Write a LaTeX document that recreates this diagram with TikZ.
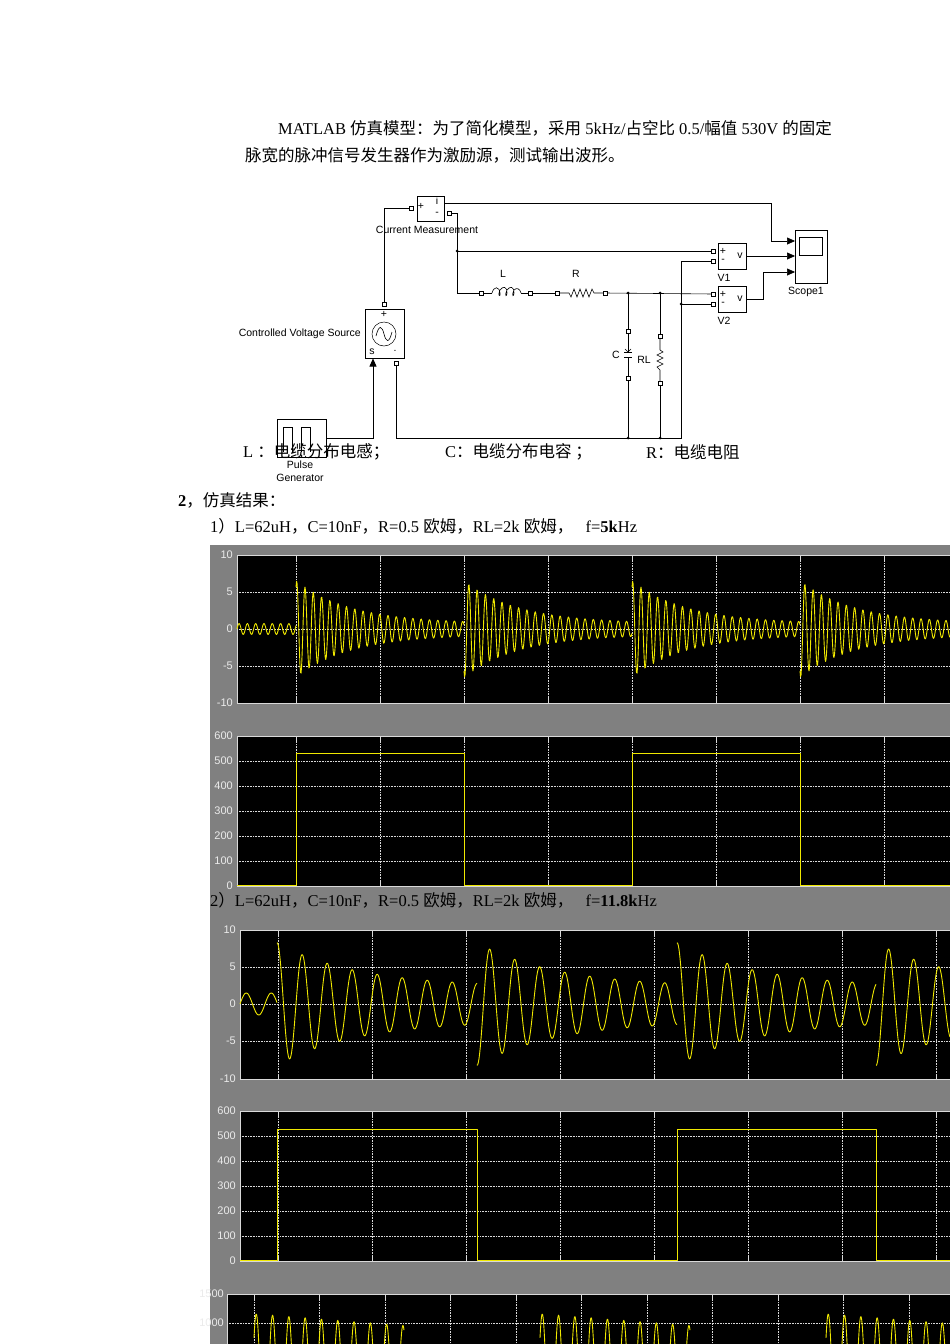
\documentclass[tikz,border=0pt]{standalone}
\usepackage{fontspec}
\setmainfont{Liberation Serif}
\newfontfamily\cjk{Noto Sans CJK SC}
\newfontfamily\sans{Liberation Sans}
\usetikzlibrary{arrows.meta}
\definecolor{scgray}{HTML}{808080}
\definecolor{wavey}{HTML}{F0E800}
\begin{document}
\begin{tikzpicture}[x=1pt,y=-1pt,
  txt/.style={inner sep=0pt,font=\fontsize{16.5}{18}\selectfont},
  lab/.style={inner sep=0pt,font=\sans\fontsize{10.5}{11}\selectfont},
  blk/.style={draw,line width=0.5pt},
  wire/.style={line width=0.6pt},
  port/.style={draw,fill=white,line width=0.4pt,minimum size=3.5pt,inner sep=0pt},
  jn/.style={circle,fill,inner sep=0pt,minimum size=3pt},
  arr/.style={wire,-{Triangle[length=8pt,width=7pt]}},
  ax/.style={inner sep=0pt,anchor=east,text=white!92!black,font=\sans\fontsize{11}{12}\selectfont},
  frame/.style={draw=white!85!black,line width=0.8pt,fill=black},
  grid/.style={white!85!black,densely dotted,line width=0.6pt},
  wave/.style={wavey,line width=0.9pt,line join=round}]
\useasboundingbox (0,0) rectangle (950,1344);
\fill[white] (0,0) rectangle (950,1344);

% ---------- text ----------
\node[txt,anchor=west] (t1) at (278,128) {MATLAB {\cjk 仿真模型：为了简化模型，采用} 5kHz/{\cjk 占空比} 0.5/{\cjk 幅值} 530V {\cjk 的固定}};
\node[txt,anchor=west] (t2) at (245,155) {\cjk 脉宽的脉冲信号发生器作为激励源，测试输出波形。};

% ---------- circuit ----------
\node[blk,minimum width=27pt,minimum height=25pt,inner sep=0pt] (cm) at (430.5,208.5) {};
\node[lab] at (421,206) {+};
\node[lab] at (437,201) {i};
\node[lab] at (437,214) {-};
\node[lab] (cml) at (427,230) {Current Measurement};
\node[port] (cmin) at (411,208) {};
\node[port] (cmm) at (449,213) {};

\node[blk,minimum width=32pt,minimum height=53pt,inner sep=0pt] (sc) at (811,256.5) {};
\draw[line width=0.5pt] (799,237) rectangle (822,255);
\node[lab] (scl) at (806,292) {Scope1};

\node[blk,minimum width=28pt,minimum height=26pt,inner sep=0pt] (v1) at (732,256) {};
\node[lab] at (723,251) {+};\node[lab] at (723,261) {-};\node[lab] at (740,256) {v};
\node[lab] at (724,278) {V1};
\node[port] (v1p) at (713,251) {};
\node[port] (v1m) at (713,261) {};
\node[blk,minimum width=28pt,minimum height=26pt,inner sep=0pt] (v2) at (732,299) {};
\node[lab] at (723,294) {+};\node[lab] at (723,304) {-};\node[lab] at (740,299) {v};
\node[lab] at (724,321) {V2};
\node[port] (v2p) at (713,294) {};
\node[port] (v2m) at (713,304) {};

\node[blk,minimum width=39pt,minimum height=49pt,inner sep=0pt] (cvs) at (384.5,333.5) {};
\node[lab] at (384,314) {+};
\node[lab] at (372,352) {s};
\node[lab] at (395,351) {.};
\draw[line width=0.5pt] (384,334) circle (12);
\draw[line width=0.6pt] (376,336) .. controls (379,324) and (382,326) .. (384,334) .. controls (386,342) and (389,344) .. (392,332);
\node[port] (cvst) at (384,304) {};
\node[port] (cvsb) at (396,363) {};
\node[lab,anchor=east] at (361,334) {Controlled Voltage Source};

\node[blk,minimum width=49pt,minimum height=38pt,inner sep=0pt] (pg) at (301.5,438) {};
\draw[line width=0.6pt] (283,452)--(283,427)--(292,427)--(292,452) (301,452)--(301,427)--(310,427)--(310,452);
\node[lab] at (300,465) {Pulse};
\node[lab] at (300,478) {Generator};

% L and R
\node[port] (l1) at (481,293) {};
\node[port] (l2) at (530,293) {};
\node[port] (r1) at (557,293) {};
\node[port] (r2) at (605,293) {};
\draw[wire] (l1)--(492,293) (521,293)--(l2);
\draw[wire] (492,293) .. controls (494,286) and (499,286) .. (500,293) .. controls (501,297) and (497,297) .. (500,290)
  .. controls (503,286) and (507,286) .. (507,293) .. controls (507,297) and (504,297) .. (507,290)
  .. controls (510,286) and (514,286) .. (514,293) .. controls (514,297) and (511,297) .. (514,290)
  .. controls (517,287) and (520,289) .. (521,293);
\node[lab] at (503,274) {L};
\draw[wire] (r1)--(569,293)--(571,297)--(574,289)--(577,297)--(580,289)--(583,297)--(586,289)--(589,297)--(592,289)--(594,293)--(r2);
\node[lab] at (576,274) {R};
\coordinate (jc) at (628,293);
\coordinate (jr) at (660,293);
\node[port] (c1) at (628,331) {};
\node[port] (c2) at (628,378) {};
\draw[wire] (c1)--(628,352) (624,352)--(632,352) (624,357)--(632,357) (628,357)--(c2);
\draw[wire] (625,349)--(628,352)--(631,349);
\node[lab] at (616,355) {C};
\node[port] (rl1) at (660,336) {};
\node[port] (rl2) at (660,383) {};
\draw[wire] (rl1)--(660,350)--(663,352)--(657,355)--(663,358)--(657,361)--(663,364)--(657,367)--(660,370)--(rl2);
\node[lab] at (644,360) {RL};

\coordinate (jtop) at (457,251);
\coordinate (jb1) at (628,438);
\coordinate (jb2) at (660,438);
\coordinate (jv) at (681,304);
\node[jn] at (jtop) {};\node[jn] at (jc) {};\node[jn] at (jr) {};
\node[jn] at (jb1) {};\node[jn] at (jb2) {};\node[jn] at (jv) {};

\draw[wire] (cvst)--(384,208)--(cmin);
\draw[wire] (cmm)--(457,213)--(457,293)--(l1);
\draw[wire] (jtop)--(v1p);
\draw[wire] (l2)--(r1);
\draw[wire] (r2)--(v2p);
\draw[wire] (jc)--(c1) (c2)--(jb1);
\draw[wire] (jr)--(rl1) (rl2)--(jb2);
\draw[wire] (cvsb)--(396,438)--(681,438)--(681,261)--(v1m);
\draw[wire] (jv)--(v2m);
\draw[arr] (pg.east)--(373,438)--(373,358.5);
\draw[arr] (cm.east|-0,203)--(771,203)--(771,241)--(795,241);
\draw[arr] (746,256)--(795,256);
\draw[arr] (746,299)--(763,299)--(763,272)--(795,272);

\node[txt,anchor=west] (c1t) at (243,452) {L {\cjk ：电缆分布电感；}};
\node[txt,anchor=west] (c2t) at (445,452) {C{\cjk ：电缆分布电容 ；}};
\node[txt,anchor=west] (c3t) at (646,452) {R{\cjk ：电缆电阻}};

\node[txt,anchor=west] (h2) at (178,500) {\textbf{2}{\cjk ，仿真结果：}};
\node[txt,anchor=west] (h3) at (210,526) {1{\cjk ）}L=62uH{\cjk ，}C=10nF{\cjk ，}R=0.5 {\cjk 欧姆，}RL=2k {\cjk 欧姆，}\ \ \ f=\textbf{5k}Hz};

% ---------- scope area ----------
\fill[scgray] (210,545) rectangle (950,1344);
\node[txt,anchor=west] (h4) at (210,900) {2{\cjk ）}L=62uH{\cjk ，}C=10nF{\cjk ，}R=0.5 {\cjk 欧姆，}RL=2k {\cjk 欧姆，}\ \ \ f=\textbf{11.8k}Hz};

% panel A
\draw[frame] (237,555) rectangle (951,703);
\foreach \v/\y in {10/555,5/592,0/629,-5/666,-10/703} \node[ax] at (233,\y) {\v};
\foreach \y in {592,629,666} \draw[grid] (237,\y)--(950,\y);
\foreach \x in {296,380,...,884} {\draw[grid] (\x,555)--(\x,703); \draw[white!85!black,line width=0.8pt] (\x,555)--(\x,560) (\x,698)--(\x,703);}
\draw[wave] plot[domain=237:296,samples=80] (\x,{629-5.5*sin(43.37*(\x-237))});
\foreach \a/\b/\s in {296/464/1,464/632/-1,632/800/1,800/950/-1}
  \draw[wave] plot[domain=\a:\b,samples=300] (\x,{629-7.4*\s*(5.8*exp(-(\x-\a)/55)+0.75)*sin(43.37*(\x-\a)+60)});

% panel B
\draw[frame] (237,736) rectangle (951,886);
\foreach \v/\y in {600/736,500/761,400/786,300/811,200/836,100/861,0/886} \node[ax] at (233,\y) {\v};
\foreach \y in {761,786,811,836,861} \draw[grid] (237,\y)--(950,\y);
\foreach \x in {296,380,...,884} {\draw[grid] (\x,736)--(\x,886); \draw[white!85!black,line width=0.8pt] (\x,736)--(\x,741) (\x,881)--(\x,886);}
\draw[wave] (237,885)--(296,885)--(296,753)--(464,753)--(464,885)--(632,885)--(632,753)--(800,753)--(800,885)--(950,885);

% panel C
\draw[frame] (240,930) rectangle (951,1079);
\foreach \v/\y in {10/930,5/967,0/1004,-5/1041,-10/1079} \node[ax] at (236,\y) {\v};
\foreach \y in {967,1004,1041} \draw[grid] (240,\y)--(950,\y);
\foreach \x in {278,372,...,940} {\draw[grid] (\x,930)--(\x,1079); \draw[white!85!black,line width=0.8pt] (\x,930)--(\x,935) (\x,1074)--(\x,1079);}
\draw[wave] plot[domain=240:277,samples=50] (\x,{1004-11*sin(14.4*(\x-240))});
\foreach \a/\b/\s in {277/477/1,477/677/-1,677/876/1,876/950/-1}
  \draw[wave] plot[domain=\a:\b,samples=300] (\x,{1004-7.4*\s*(6*exp(-(\x-\a)/80)+2.3)*sin(14.4*(\x-\a+6))});

% panel D
\draw[frame] (240,1111) rectangle (951,1261);
\foreach \v/\y in {600/1111,500/1136,400/1161,300/1186,200/1211,100/1236,0/1261} \node[ax] at (236,\y) {\v};
\foreach \y in {1136,1161,1186,1211,1236} \draw[grid] (240,\y)--(950,\y);
\foreach \x in {278,372,...,940} {\draw[grid] (\x,1111)--(\x,1261); \draw[white!85!black,line width=0.8pt] (\x,1111)--(\x,1116) (\x,1256)--(\x,1261);}
\draw[wave] (240,1260)--(277,1260)--(277,1129)--(477,1129)--(477,1260)--(677,1260)--(677,1129)--(876,1129)--(876,1260)--(950,1260);

% panel E
\draw[frame] (227,1294) rectangle (951,1350);
\node[ax] at (224,1294) {1500};
\node[ax] at (224,1323) {1000};
\draw[grid] (227,1323)--(950,1323);
\foreach \x in {254,319.5,...,950} {\draw[grid] (\x,1294)--(\x,1344); \draw[white!85!black,line width=0.8pt] (\x,1294)--(\x,1299);}
\begin{scope}
\clip (227,1295) rectangle (950,1344);
\foreach \a in {254,540,826}
  \draw[wave] plot[domain=\a:\a+150,samples=300] (\x,{1381-0.058*(1160-1.35*(\x-\a))*max(0,sin(22.09*(\x-\a)+40))});
\end{scope}
\end{tikzpicture}
\end{document}
